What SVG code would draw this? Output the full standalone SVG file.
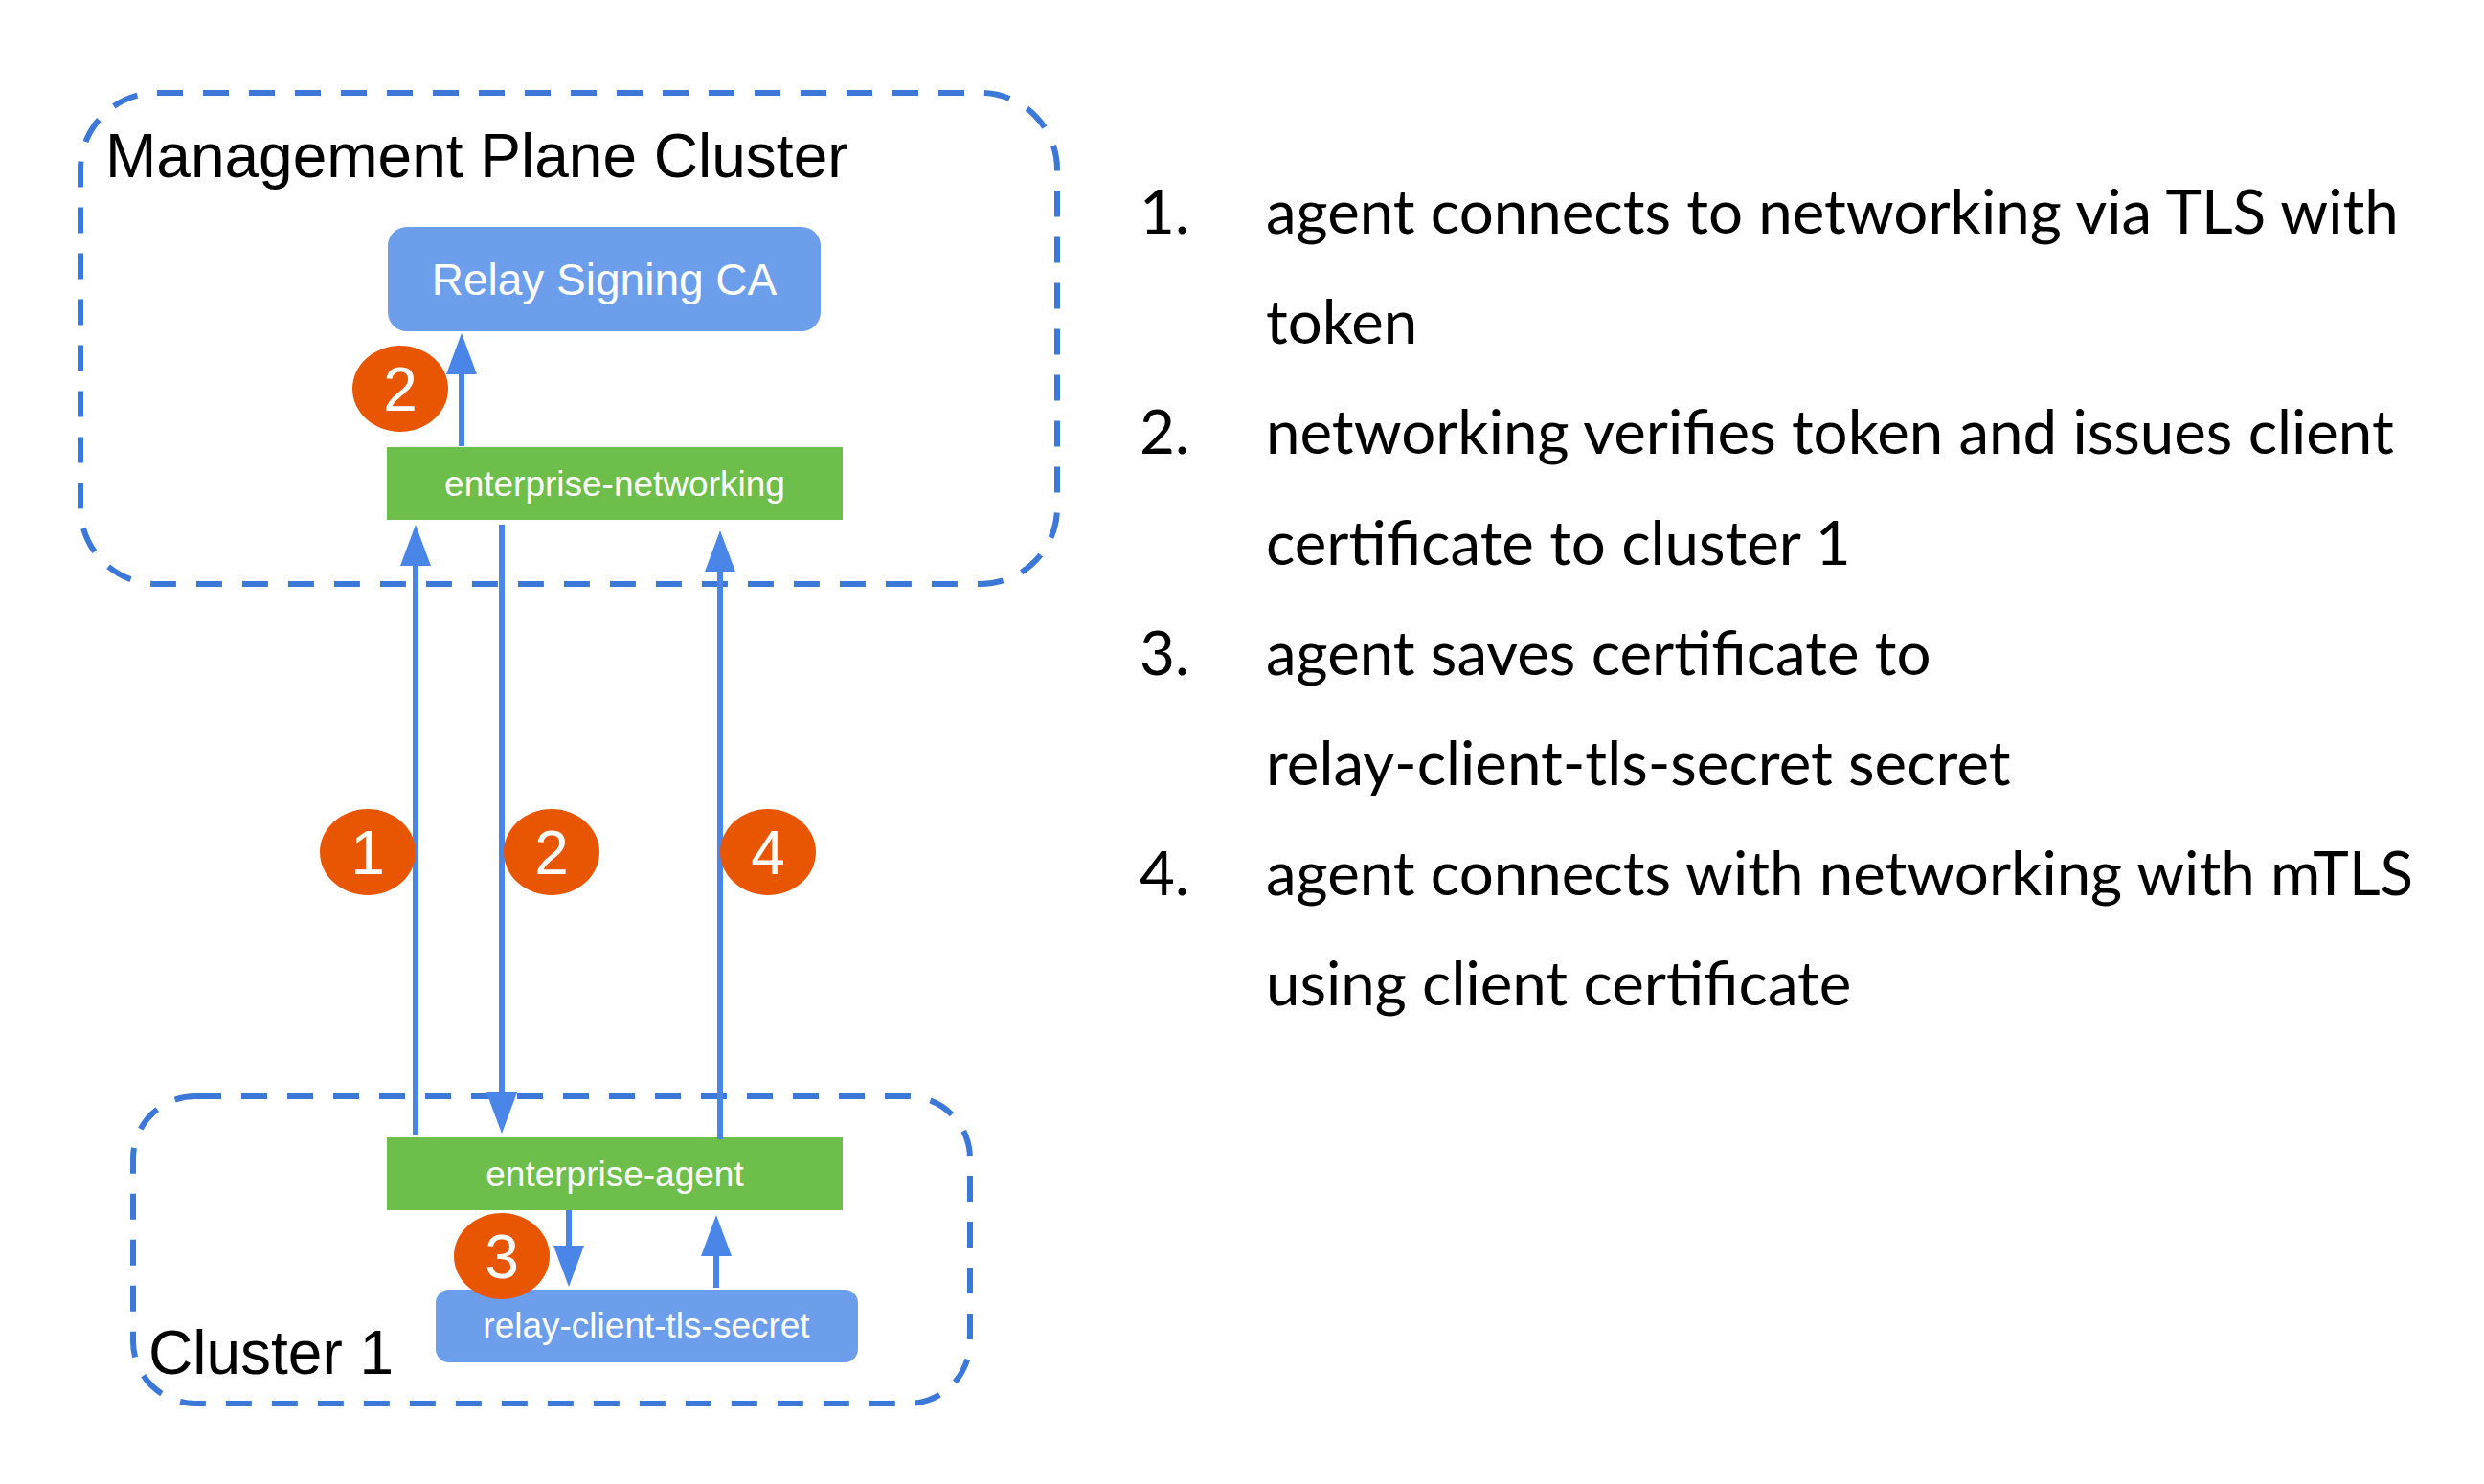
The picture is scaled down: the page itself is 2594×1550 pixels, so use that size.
<svg xmlns="http://www.w3.org/2000/svg" width="2594" height="1550" viewBox="0 0 2594 1550">
<style>
.cluster{fill:none;stroke:#3c78d8;stroke-width:6;stroke-dasharray:27 21}
.title{font-family:"Liberation Sans",Arial,sans-serif;font-size:64px;fill:#000}
.green{fill:#6dbe4b}
.blue{fill:#6d9eeb}
.lbl{font-family:"Liberation Sans",Arial,sans-serif;font-size:37px;fill:#fff;text-anchor:middle}
.conn{fill:none;stroke:#4a86e8;stroke-width:6}
.badge{fill:#e85604}
.num{font-family:"Liberation Sans",Arial,sans-serif;font-size:64px;fill:#fff;text-anchor:middle}
.list{font-family:Lato,"Noto Sans",sans-serif;font-size:63.6px;fill:#000}
</style>
<defs>
<marker id="ah" markerUnits="userSpaceOnUse" markerWidth="44" markerHeight="32" refX="1" refY="16" orient="auto">
<path d="M0,0 L43,16 L0,32 z" fill="#4a86e8"/>
</marker>
</defs>
<rect width="2594" height="1550" fill="#fff"/>
<g id="mgmt-cluster">
<rect class="cluster" x="84" y="97" width="1020" height="513" rx="80" ry="80"/>
<text class="title" x="110" y="185">Management Plane Cluster</text>
</g>
<g id="cluster1">
<rect class="cluster" x="139" y="1145" width="874" height="321" rx="65" ry="65"/>
<text class="title" x="155" y="1435">Cluster 1</text>
</g>
<g id="relay-signing-ca">
<rect class="blue" x="405" y="237" width="452" height="109" rx="20" ry="20"/>
<text class="lbl" x="631" y="308" style="font-size:46px">Relay Signing CA</text>
</g>
<g id="enterprise-networking">
<rect class="green" x="404" y="467" width="476" height="76"/>
<text class="lbl" x="642" y="518">enterprise-networking</text>
</g>
<g id="enterprise-agent">
<rect class="green" x="404" y="1188" width="476" height="76"/>
<text class="lbl" x="642" y="1239">enterprise-agent</text>
</g>
<g id="relay-client-tls-secret">
<rect class="blue" x="455" y="1347" width="441" height="76" rx="14" ry="14"/>
<text class="lbl" x="675" y="1397">relay-client-tls-secret</text>
</g>
<g id="connectors">
<path class="conn" d="M482,466 V390" marker-end="url(#ah)"/>
<path class="conn" d="M434,1186 V590" marker-end="url(#ah)"/>
<path class="conn" d="M524,548 V1142" marker-end="url(#ah)"/>
<path class="conn" d="M752,1190 V596" marker-end="url(#ah)"/>
<path class="conn" d="M594,1264 V1302" marker-end="url(#ah)"/>
<path class="conn" d="M748,1345 V1311" marker-end="url(#ah)"/>
</g>
<g id="badge-2-top">
<ellipse class="badge" cx="418" cy="406" rx="50" ry="45"/>
<text class="num" x="418" y="429">2</text>
</g>
<g id="badge-1">
<ellipse class="badge" cx="384" cy="890" rx="50" ry="45"/>
<text class="num" x="384" y="913">1</text>
</g>
<g id="badge-2">
<ellipse class="badge" cx="576" cy="890" rx="50" ry="45"/>
<text class="num" x="576" y="913">2</text>
</g>
<g id="badge-4">
<ellipse class="badge" cx="802" cy="890" rx="50" ry="45"/>
<text class="num" x="802" y="913">4</text>
</g>
<g id="badge-3">
<ellipse class="badge" cx="524" cy="1312" rx="50" ry="45"/>
<text class="num" x="524" y="1335">3</text>
</g>
<g id="steps">
<text class="list" x="1190" y="244">1.</text>
<text class="list" x="1322" y="244">agent connects to networking via TLS with</text>
<text class="list" x="1322" y="359">token</text>
<text class="list" x="1190" y="474">2.</text>
<text class="list" x="1322" y="474">networking verifies token and issues client</text>
<text class="list" x="1322" y="590">certificate to cluster 1</text>
<text class="list" x="1190" y="705">3.</text>
<text class="list" x="1322" y="705">agent saves certificate to</text>
<text class="list" x="1322" y="820">relay-client-tls-secret secret</text>
<text class="list" x="1190" y="935">4.</text>
<text class="list" x="1322" y="935">agent connects with networking with mTLS</text>
<text class="list" x="1322" y="1050">using client certificate</text>
</g>
</svg>
